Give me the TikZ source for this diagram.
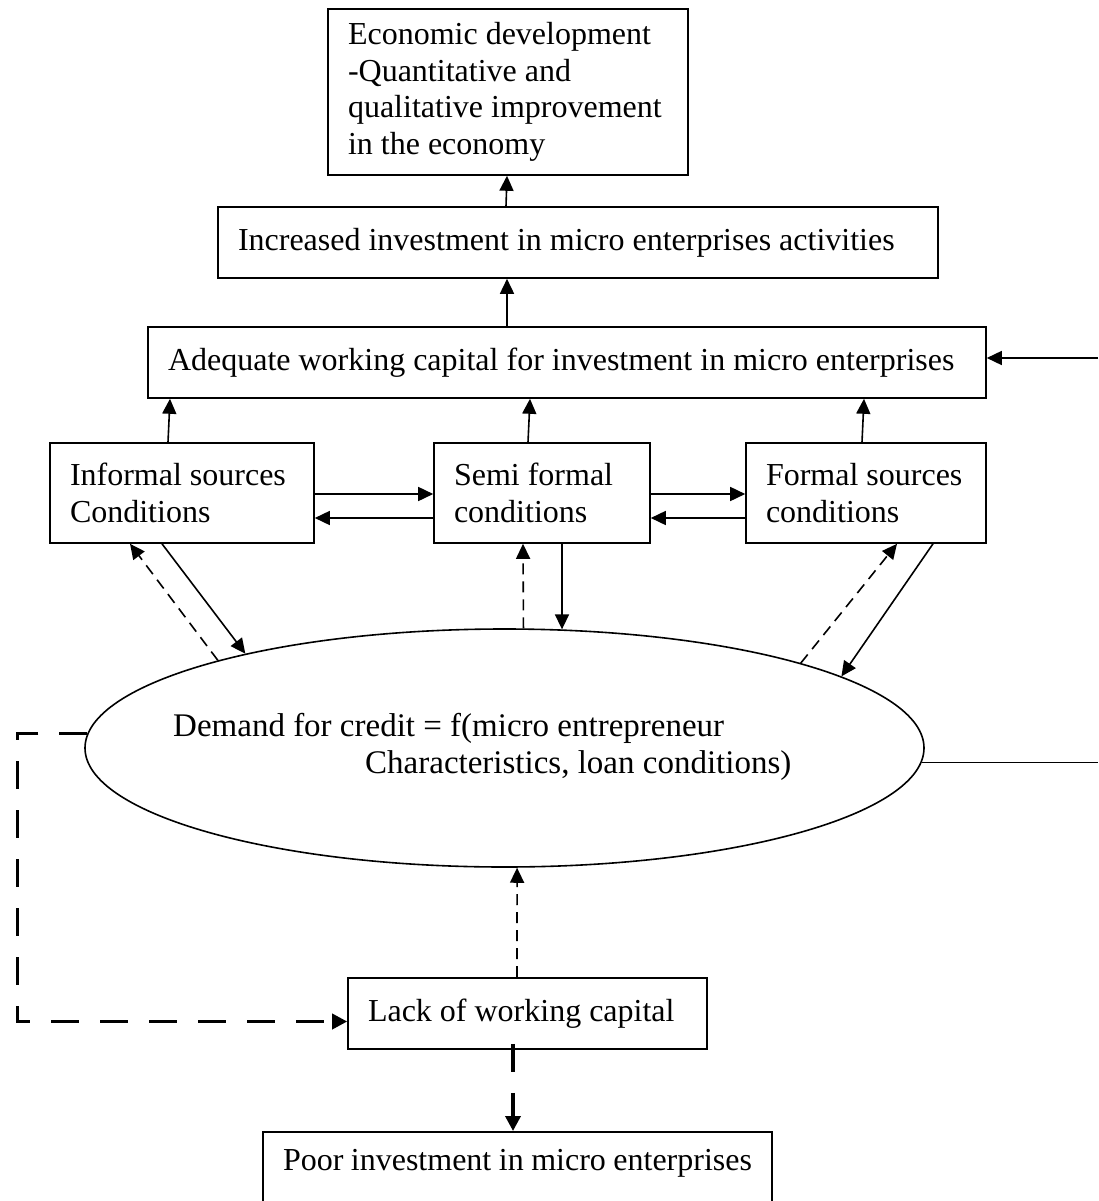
\documentclass[tikz,border=0pt]{standalone}
\usepackage{fontspec}
\setmainfont{Liberation Serif}
\usetikzlibrary{arrows.meta,shapes.geometric}

\begin{document}
\begin{tikzpicture}[x=1pt,y=-1pt,
    box/.style={draw,line width=1.6pt,inner xsep=20pt,inner ysep=8pt,align=flush left,
      font=\fontsize{32}{36.7}\selectfont},
    txt/.style={inner sep=0pt,align=flush left,font=\fontsize{33}{37}\selectfont},
    arr/.style={line width=1.6pt,-{Triangle[length=15pt,width=14pt]}},
    darr/.style={arr,dash pattern=on 11pt off 7pt},
    thickdash/.style={line width=3.5pt,dash pattern=on 28pt off 21pt,-{Triangle[length=15pt,width=15pt]}}]
  \useasboundingbox (0,0) rectangle (1098,1201);
  \node[box,minimum width=360pt,minimum height=166pt,text width=320pt] (econ) at (508,92)
    {Economic development\\-Quantitative and\\qualitative improvement\\in the economy};
  \node[box,minimum width=720pt,minimum height=71pt,text width=680pt] (incr) at (578,242.5)
    {Increased investment in micro enterprises activities};
  \node[box,minimum width=838pt,minimum height=71pt,text width=798pt] (adeq) at (567,362.5)
    {Adequate working capital for investment in micro enterprises};
  \node[box,minimum width=264pt,minimum height=100pt,text width=224pt] (informal) at (182,493)
    {Informal sources\\Conditions};
  \node[box,minimum width=216pt,minimum height=100pt,text width=176pt] (semi) at (542,493)
    {Semi formal\\conditions};
  \node[box,minimum width=240pt,minimum height=100pt,text width=200pt] (formal) at (866,493)
    {Formal sources\\conditions};
  \node[draw,ellipse,line width=1.6pt,minimum width=839pt,minimum height=238pt,inner sep=0pt] (demand) at (504.5,748) {};
  \node[txt,anchor=base west] (demandtxt) at (173,773)
    {Demand for credit = f(micro entrepreneur\\\hspace*{192pt}Characteristics, loan conditions)};
  \node[box,minimum width=359pt,minimum height=71pt,text width=319pt] (lack) at (527.5,1013.5)
    {Lack of working capital};
  \node[box,anchor=north,minimum width=509pt,text width=469pt,inner ysep=10pt,
    text height=29pt,text depth=40pt] (poor) at (517.5,1131)
    {Poor investment in micro enterprises};
  \coordinate (fbtop) at (1098,358);
  \coordinate (fbbot) at (1098,760);

  \draw[arr] ([xshift=-72pt]incr.north) -- ([xshift=-1pt]econ.south);
  \draw[arr] ([xshift=-60pt]adeq.north) -- ([xshift=-60pt]adeq.north |- incr.south);
  \draw[arr] ([xshift=-14pt]informal.north) -- ([xshift=-12pt]informal.north |- adeq.south);
  \draw[arr] ([xshift=-14pt]semi.north) -- ([xshift=-12pt]semi.north |- adeq.south);
  \draw[arr] ([xshift=-4pt]formal.north) -- ([xshift=-2pt]formal.north |- adeq.south);
  \draw[arr] (fbtop) -- (adeq.east |- fbtop);
  \draw[line width=1.6pt] (demand.358.4) -- (demand.358.4 -| fbbot);

  \draw[arr] ([yshift=-1pt]informal.east) -- ([yshift=-1pt]semi.west);
  \draw[arr] ([yshift=-25pt]semi.west) -- ([yshift=-25pt]informal.east);
  \draw[arr] ([yshift=-1pt]semi.east) -- ([yshift=-1pt]formal.west);
  \draw[arr] ([yshift=-25pt]formal.west) -- ([yshift=-25pt]semi.east);

  \draw[arr] ([xshift=-20pt]informal.south) -- (demand.160);
  \draw[darr] (demand.163) -- ([xshift=-52pt]informal.south);
  \draw[darr] (demand.81.2) -- ([xshift=-19pt]semi.south);
  \draw[arr] ([xshift=20pt]semi.south) -- ([xshift=20pt]semi.south |- demand.64.2);
  \draw[arr] ([xshift=67pt]formal.south) -- (demand.12.9);
  \draw[darr] (demand.16) -- ([xshift=31pt]formal.south);

  \draw[darr] ([xshift=-10.5pt]lack.north) -- (demand.276);
  \draw[thickdash] (demand.178.8) -- ++(-70,0) |- ([yshift=-8pt]lack.west);
  \draw[thickdash] ([xshift=-14.5pt,yshift=6pt]lack.south) -- ([xshift=-14.5pt]lack.south |- poor.north);
\end{tikzpicture}
\end{document}
